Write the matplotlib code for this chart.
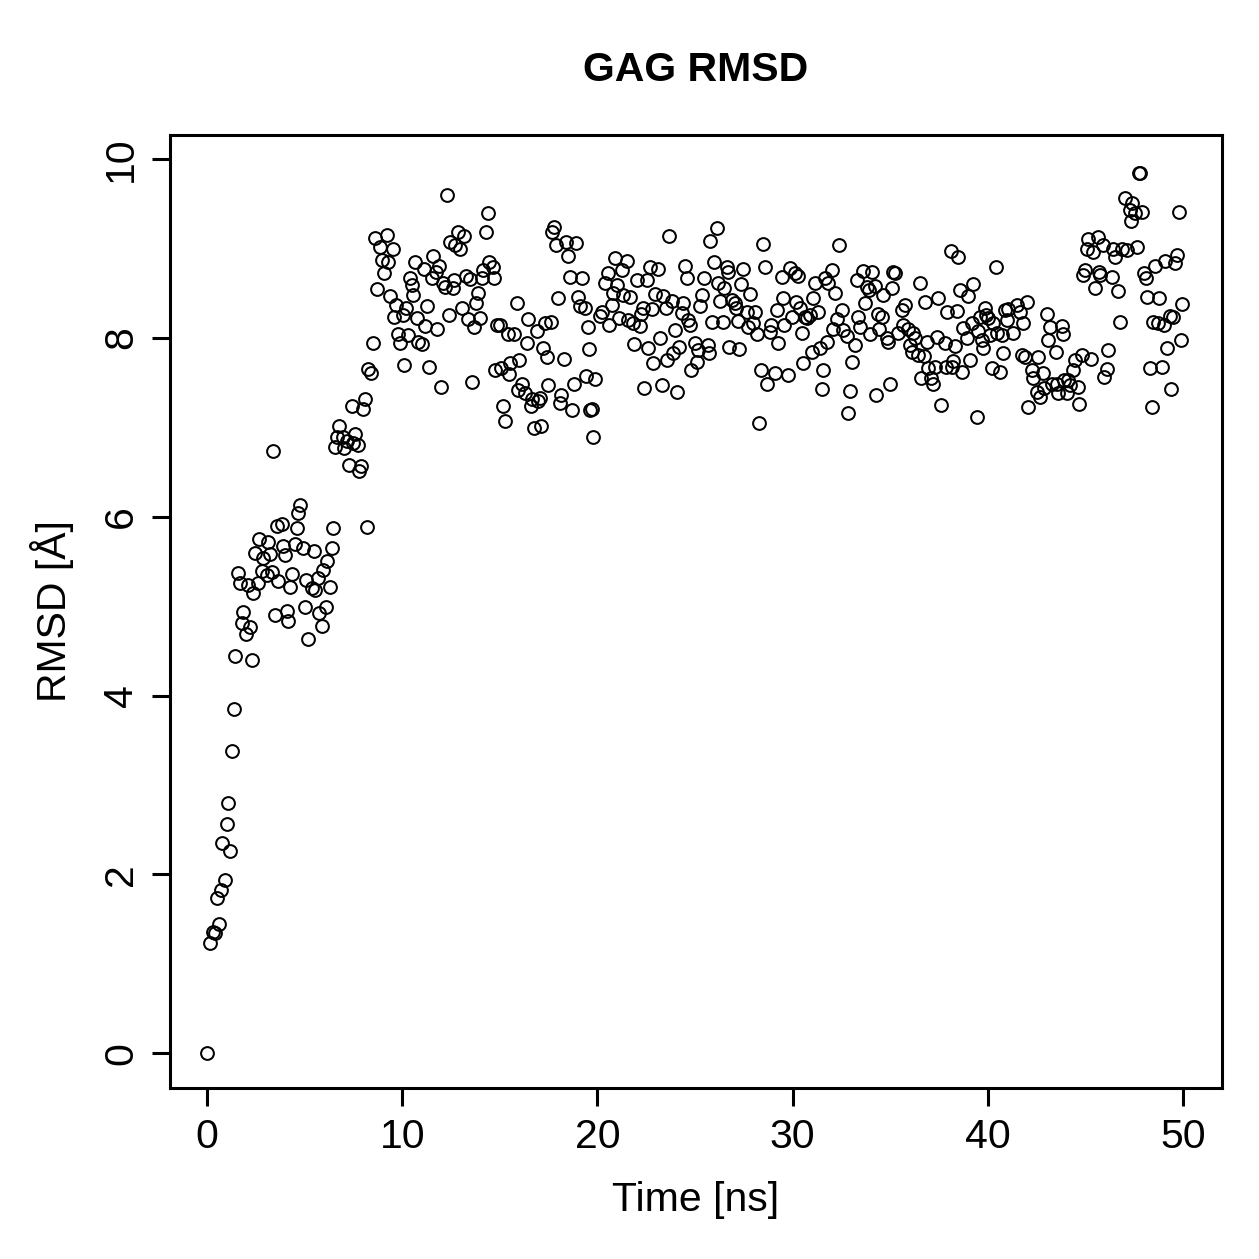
#!/usr/bin/env python3
"""GAG RMSD over simulation time (R base-graphics look)."""

import numpy as np
import matplotlib
matplotlib.use('Agg')
import matplotlib.pyplot as plt
from matplotlib import rcParams

rcParams['font.family'] = ['Liberation Sans', 'DejaVu Sans']
rcParams['font.size'] = 29.5

# ---------------------- Data ----------------------
# initial rise, 0 - 8.5 ns
rise_time = [0.0, 0.15, 0.31, 0.41, 0.51, 0.61, 0.72, 0.77, 0.92, 1.02,
             1.08, 1.18, 1.28, 1.38, 1.43, 1.59, 1.69, 1.79, 1.84, 2.00,
             2.10, 2.20, 2.31, 2.36, 2.46, 2.61, 2.66, 2.82, 2.87, 3.07,
             3.12, 3.23, 3.33, 3.38, 3.48, 3.59, 3.64, 3.84, 3.89, 4.00,
             4.10, 4.15, 4.25, 4.35, 4.51, 4.61, 4.66, 4.76, 4.92, 5.02,
             5.07, 5.17, 5.38, 5.48, 5.53, 5.69, 5.74, 5.89, 5.94, 6.10,
             6.15, 6.30, 6.40, 6.46, 6.56, 6.66, 6.76, 6.97, 7.02, 7.17,
             7.27, 7.43, 7.48, 7.58, 7.74, 7.79, 7.89, 7.99, 8.09, 8.20,
             8.25, 8.40, 8.50]
rise_rmsd = [0.00, 1.23, 1.35, 1.34, 1.73, 1.45, 1.82, 2.35, 1.94, 2.56,
             2.80, 2.26, 3.38, 3.85, 4.44, 5.37, 5.26, 4.81, 4.93, 4.69,
             5.24, 4.77, 4.40, 5.15, 5.59, 5.26, 5.75, 5.39, 5.54, 5.35,
             5.72, 5.58, 5.38, 6.73, 4.90, 5.90, 5.28, 5.92, 5.67, 5.57,
             4.94, 4.83, 5.21, 5.36, 5.69, 5.87, 6.04, 6.13, 5.65, 4.99,
             5.29, 4.63, 5.20, 5.62, 5.18, 5.31, 4.92, 4.78, 5.40, 4.99,
             5.50, 5.21, 5.65, 5.87, 6.78, 6.89, 7.01, 6.89, 6.77, 6.85,
             6.58, 7.24, 6.82, 6.92, 6.80, 6.51, 6.57, 7.20, 7.32, 5.88,
             7.65, 7.61, 7.94]

# plateau, 8.6 - 20 ns
p1_time = [8.61, 8.71, 8.86, 8.97, 9.07, 9.22, 9.27, 9.38, 9.53, 9.58,
           9.68, 9.79, 9.89, 10.04, 10.09, 10.19, 10.30, 10.40, 10.50, 10.55,
           10.66, 10.76, 10.81, 11.01, 11.12, 11.17, 11.27, 11.37, 11.53, 11.58,
           11.73, 11.78, 11.89, 11.99, 12.09, 12.19, 12.30, 12.40, 12.45, 12.60,
           12.65, 12.70, 12.86, 12.96, 13.06, 13.17, 13.27, 13.37, 13.47, 13.58,
           13.68, 13.78, 13.88, 13.99, 14.09, 14.14, 14.29, 14.40, 14.45, 14.65,
           14.70, 14.75, 14.86, 15.01, 15.06, 15.16, 15.27, 15.42, 15.47, 15.52,
           15.73, 15.88, 15.93, 15.98, 16.14, 16.29, 16.39, 16.44, 16.60, 16.65,
           16.75, 16.91, 16.96, 17.06, 17.11, 17.21, 17.32, 17.42, 17.47, 17.62,
           17.67, 17.78, 17.88, 17.98, 18.08, 18.14, 18.29, 18.39, 18.49, 18.60,
           18.70, 18.80, 18.90, 19.01, 19.11, 19.21, 19.36, 19.41, 19.52, 19.57,
           19.62, 19.72, 19.77, 19.88]
p1_rmsd = [9.12, 8.55, 9.02, 8.87, 8.73, 9.15, 8.85, 8.47, 9.00, 8.23,
           8.37, 8.04, 7.94, 8.26, 7.70, 8.33, 8.03, 8.67, 8.59, 8.48,
           8.85, 8.22, 7.95, 7.93, 8.77, 8.13, 8.36, 7.67, 8.67, 8.92,
           8.74, 8.10, 8.80, 7.45, 8.62, 8.57, 9.60, 8.26, 9.07, 8.56,
           8.65, 9.04, 9.19, 9.00, 8.34, 9.14, 8.69, 8.21, 8.66, 7.51,
           8.12, 8.39, 8.50, 8.22, 8.67, 8.76, 9.19, 9.40, 8.85, 8.79,
           8.67, 7.64, 8.15, 8.14, 7.66, 7.24, 7.07, 8.04, 7.60, 7.72,
           8.04, 8.39, 7.42, 7.75, 7.49, 7.38, 7.94, 8.21, 7.24, 7.32,
           6.99, 8.08, 7.30, 7.33, 7.02, 7.89, 8.17, 7.79, 7.47, 8.18,
           9.19, 9.24, 9.04, 8.45, 7.27, 7.36, 7.76, 9.07, 8.92, 8.68,
           7.19, 7.49, 9.06, 8.46, 8.36, 8.67, 8.33, 7.57, 8.12, 7.88,
           7.19, 7.20, 6.89, 7.54]

# plateau, 20 - 30 ns
p2_time = [20.13, 20.24, 20.39, 20.54, 20.59, 20.75, 20.80, 20.90, 21.00, 21.11,
           21.26, 21.31, 21.52, 21.57, 21.67, 21.82, 21.87, 22.03, 22.18, 22.23,
           22.34, 22.39, 22.54, 22.59, 22.70, 22.80, 22.85, 22.95, 23.10, 23.21,
           23.31, 23.36, 23.51, 23.57, 23.67, 23.82, 23.87, 23.98, 24.08, 24.18,
           24.33, 24.39, 24.49, 24.59, 24.64, 24.74, 24.79, 25.00, 25.10, 25.15,
           25.26, 25.36, 25.46, 25.67, 25.72, 25.77, 25.87, 25.97, 26.13, 26.18,
           26.28, 26.43, 26.49, 26.64, 26.69, 26.74, 26.90, 27.05, 27.10, 27.20,
           27.25, 27.36, 27.46, 27.66, 27.72, 27.82, 27.97, 28.07, 28.18, 28.28,
           28.38, 28.48, 28.59, 28.69, 28.84, 28.89, 29.10, 29.20, 29.25, 29.46,
           29.51, 29.56, 29.77, 29.87, 29.97]
p2_rmsd = [8.24, 8.29, 8.61, 8.73, 8.14, 8.37, 8.50, 8.89, 8.59, 8.22,
           8.76, 8.48, 8.86, 8.20, 8.46, 8.17, 7.93, 8.65, 8.13, 8.27,
           8.34, 7.44, 8.65, 7.89, 8.79, 8.32, 7.72, 8.49, 8.77, 8.00,
           7.47, 8.47, 8.34, 7.75, 9.14, 8.41, 7.83, 8.09, 7.39, 7.90,
           8.28, 8.39, 8.80, 8.67, 8.20, 8.15, 7.64, 7.94, 7.73, 7.86,
           8.36, 8.48, 8.67, 7.92, 7.83, 9.08, 8.18, 8.85, 9.23, 8.61,
           8.41, 8.18, 8.56, 8.79, 8.74, 7.90, 8.42, 8.39, 8.34, 8.19,
           7.88, 8.60, 8.77, 8.29, 8.12, 8.49, 8.17, 8.29, 8.04, 7.05,
           7.64, 9.05, 8.79, 7.49, 8.07, 8.15, 7.61, 8.31, 7.94, 8.68,
           8.45, 8.15, 7.58, 8.78, 8.23]

# plateau, 30 - 40 ns
p3_time = [30.12, 30.17, 30.28, 30.38, 30.48, 30.53, 30.64, 30.74, 30.89, 30.99,
           31.05, 31.15, 31.30, 31.40, 31.51, 31.56, 31.66, 31.76, 31.81, 32.02,
           32.07, 32.17, 32.27, 32.38, 32.53, 32.58, 32.79, 32.84, 32.94, 33.04,
           33.20, 33.30, 33.35, 33.45, 33.61, 33.71, 33.81, 33.91, 33.97, 34.07,
           34.22, 34.27, 34.38, 34.43, 34.58, 34.63, 34.83, 34.88, 34.99, 35.09,
           35.14, 35.24, 35.40, 35.60, 35.66, 35.76, 35.91, 36.01, 36.12, 36.17,
           36.27, 36.42, 36.53, 36.58, 36.73, 36.78, 36.89, 36.94, 37.09, 37.19,
           37.30, 37.40, 37.45, 37.60, 37.81, 37.86, 37.91, 38.11, 38.17, 38.22,
           38.32, 38.42, 38.47, 38.58, 38.68, 38.73, 38.93, 38.98, 39.09, 39.19,
           39.24, 39.45, 39.50, 39.60, 39.70, 39.75, 39.86, 39.91]
p3_rmsd = [8.73, 8.40, 8.69, 8.34, 8.05, 7.72, 8.23, 8.22, 8.26, 7.84,
           8.45, 8.61, 8.29, 7.89, 7.43, 7.64, 8.67, 7.95, 8.61, 8.76,
           8.10, 8.50, 8.21, 9.04, 8.31, 8.09, 8.02, 7.16, 7.41, 7.73,
           7.92, 8.65, 8.23, 8.12, 8.75, 8.39, 8.57, 8.54, 8.04, 8.74,
           8.58, 7.36, 8.27, 8.10, 8.23, 8.48, 8.00, 7.95, 7.49, 8.56,
           8.74, 8.73, 8.05, 8.31, 8.15, 8.37, 8.10, 7.92, 7.84, 8.05,
           8.00, 7.81, 8.61, 7.55, 7.80, 8.40, 7.96, 7.66, 7.55, 7.49,
           7.67, 8.01, 8.45, 7.25, 7.94, 7.67, 8.29, 8.97, 7.67, 7.74,
           7.91, 8.30, 8.90, 8.54, 7.62, 8.11, 8.00, 8.47, 7.75, 8.17,
           8.60, 7.12, 8.08, 8.23, 7.98, 7.89, 8.34, 8.26]

# plateau, 40 - 50 ns
p4_time = [40.01, 40.11, 40.21, 40.27, 40.42, 40.47, 40.63, 40.73, 40.78, 40.88,
           40.98, 41.04, 41.29, 41.50, 41.65, 41.75, 41.80, 41.91, 42.01, 42.06,
           42.26, 42.31, 42.52, 42.57, 42.67, 42.83, 42.88, 43.03, 43.08, 43.19,
           43.29, 43.49, 43.55, 43.60, 43.80, 43.85, 43.90, 44.06, 44.11, 44.21,
           44.37, 44.47, 44.62, 44.67, 44.83, 44.88, 44.98, 45.08, 45.13, 45.29,
           45.39, 45.49, 45.64, 45.69, 45.75, 45.90, 45.95, 46.11, 46.16, 46.36,
           46.41, 46.52, 46.67, 46.77, 46.87, 47.03, 47.13, 47.28, 47.33, 47.39,
           47.54, 47.64, 47.74, 47.80, 47.90, 48.00, 48.10, 48.15, 48.31, 48.41,
           48.46, 48.57, 48.72, 48.77, 48.92, 49.03, 49.08, 49.18, 49.33, 49.39,
           49.49, 49.59, 49.69, 49.80, 49.90, 49.95]
p4_rmsd = [8.22, 8.03, 7.66, 8.17, 8.79, 8.05, 7.62, 8.03, 7.83, 8.31,
           8.20, 8.32, 8.05, 8.37, 8.29, 7.81, 8.17, 7.79, 8.40, 7.23,
           7.64, 7.55, 7.39, 7.79, 7.34, 7.61, 7.44, 8.27, 7.98, 8.12,
           7.49, 7.84, 7.49, 7.38, 8.13, 8.04, 7.53, 7.38, 7.53, 7.47,
           7.64, 7.75, 7.45, 7.26, 7.81, 8.70, 8.76, 9.00, 9.11, 7.76,
           8.96, 8.56, 9.13, 8.74, 8.70, 9.04, 7.56, 7.65, 7.86, 8.68,
           8.99, 8.90, 8.52, 8.18, 9.00, 9.56, 8.98, 9.43, 9.31, 9.51,
           9.40, 9.02, 9.84, 9.85, 9.41, 8.73, 8.67, 8.46, 7.66, 7.23,
           8.18, 8.80, 8.17, 8.45, 7.67, 8.14, 8.86, 7.89, 8.24, 7.43,
           8.23, 8.84, 8.93, 9.41, 7.98, 8.38]

x_ticks = [0, 10, 20, 30, 40, 50]
y_ticks = [0, 2, 4, 6, 8, 10]

# ---------------------- Plot ----------------------
time = np.concatenate([rise_time, p1_time, p2_time, p3_time, p4_time])
rmsd = np.concatenate([rise_rmsd, p1_rmsd, p2_rmsd, p3_rmsd, p4_rmsd])

W = H = 1259
fig = plt.figure(figsize=(W / 100, H / 100), dpi=100)
ax = fig.add_axes([170 / W, 1 - 1088 / H, (1222 - 170) / W, (1088 - 135) / H])

ax.plot(time, rmsd, 'o', mfc='none', mec='black', ms=9.2, mew=1.45)

ax.set_xlim(-1.9, 52.0)
ax.set_ylim(-0.39, 10.27)
ax.set_xticks(x_ticks)
ax.set_yticks(y_ticks)
for s in ax.spines.values():
    s.set_linewidth(2.2)
ax.tick_params(direction='out', length=13, width=2.2, pad=8.5)
ax.tick_params(axis='y', labelrotation=90)
for lbl in ax.get_yticklabels():
    lbl.set_va('center')

fig.text(696 / W, 1 - 70 / H, 'GAG RMSD', ha='center', va='center', fontweight='bold')
fig.text(696 / W, 1 - 1200 / H, 'Time [ns]', ha='center', va='center')
fig.text(52 / W, 1 - 611 / H, 'RMSD [Å]', ha='center', va='center', rotation=90)

fig.savefig('out.png', dpi=100)
